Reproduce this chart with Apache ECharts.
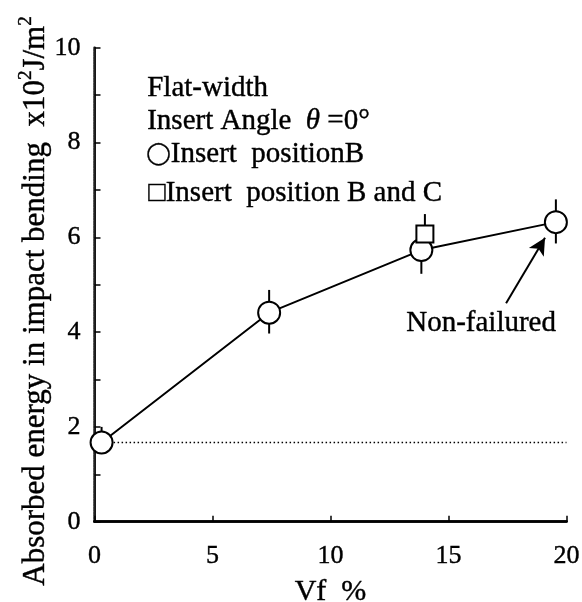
<!DOCTYPE html>
<html>
<head>
<meta charset="utf-8">
<script src="https://cdn.jsdelivr.net/npm/echarts@6/dist/echarts.min.js"></script>
<style>
html,body{margin:0;padding:0;background:#fff;}
#c{width:582px;height:602px;}
</style>
</head>
<body>
<div id="c"></div>
<script>
// ---- data ----
var xTicks = [0, 5, 10, 15, 20];
var yTicks = [0, 2, 4, 6, 8, 10];
// Insert position B : [Vf %, absorbed energy x10^2 J/m^2]
var posB = [[0.3, 1.67], [7.4, 4.41], [13.85, 5.73], [19.55, 6.32]];
// error bars for position B : [Vf, low, high]
var posBErr = [[0.3, 1.5, 2.0], [7.4, 3.97, 4.89], [13.85, 5.23, 5.9], [19.55, 5.87, 6.8]];
// Insert position B and C
var posBC = [[14.0, 6.07]];
var posBCErr = [[14.0, 5.95, 6.49]];
// reference level (Vf = 0) dotted line
var refLine = [[0.3, 1.67], [20, 1.67]];
// arrow pointing to the non-failured specimen
var arrowFrom = [17.44, 4.61];
var arrowTo = [19.09, 5.99];

var SERIF = '"Liberation Serif","Times New Roman",serif';
var INK = {textBorderColor: '#000', textBorderWidth: 0.4};
function tok(font) { return {font: font, fill: '#000', stroke: '#000', lineWidth: 0.4}; }

function errRender(params, api) {
  var x = api.value(0), lo = api.value(1), hi = api.value(2);
  var p1 = api.coord([x, lo]), p2 = api.coord([x, hi]);
  return {
    type: 'line',
    shape: {x1: p1[0], y1: p1[1], x2: p2[0], y2: p2[1]},
    style: {stroke: '#000', lineWidth: 2}
  };
}

var chart = echarts.init(document.getElementById('c'));
chart.setOption({
  animation: false,
  backgroundColor: '#fff',
  grid: {left: 94.5, right: 15.5, top: 47.7, bottom: 80.3, containLabel: false, outerBoundsMode: 'none'},
  xAxis: [{
    type: 'value', min: xTicks[0], max: xTicks[xTicks.length - 1], interval: 5,
    axisLine: {show: true, onZero: false, lineStyle: {color: '#000', width: 2.5}},
    axisTick: {show: true, inside: true, length: 6, lineStyle: {color: '#000', width: 1.5}},
    axisLabel: Object.assign({color: '#000', fontFamily: SERIF, fontSize: 26, margin: 21}, INK),
    splitLine: {show: false},
    name: 'Vf  %', nameLocation: 'middle', nameGap: 55,
    nameTextStyle: Object.assign({color: '#000', fontFamily: SERIF, fontSize: 30}, INK)
  }, {
    type: 'value', position: 'top', min: 0, max: 20,
    axisLine: {show: true, lineStyle: {color: '#000', width: 2.5}},
    axisTick: {show: false}, axisLabel: {show: false}, splitLine: {show: false}
  }],
  yAxis: [{
    type: 'value', min: yTicks[0], max: yTicks[yTicks.length - 1], interval: 2,
    axisLine: {show: true, onZero: false, lineStyle: {color: '#000', width: 2}},
    axisTick: {show: true, inside: true, length: 6, lineStyle: {color: '#000', width: 1.5}},
    minorTick: {show: true, splitNumber: 2, length: 6, lineStyle: {color: '#000', width: 1.5}},
    axisLabel: Object.assign({color: '#000', fontFamily: SERIF, fontSize: 26, margin: 14}, INK),
    splitLine: {show: false}
  }, {
    type: 'value', position: 'right', min: 0, max: 10,
    axisLine: {show: true, lineStyle: {color: '#222', width: 2.5, type: [2, 0.6]}},
    axisTick: {show: false}, axisLabel: {show: false}, splitLine: {show: false}
  }],
  series: [{
    type: 'line', data: refLine, symbol: 'none', z: 1,
    lineStyle: {color: '#000', width: 1.5, type: [1.5, 2.5]}
  }, {
    type: 'custom', data: posBErr, renderItem: errRender, z: 2,
    encode: {x: 0, y: [1, 2]}
  }, {
    type: 'custom', data: posBCErr, renderItem: errRender, z: 2,
    encode: {x: 0, y: [1, 2]}
  }, {
    name: 'Insert positionB', type: 'line', data: posB, z: 3,
    symbol: 'circle', symbolSize: 22,
    itemStyle: {color: '#fff', borderColor: '#000', borderWidth: 2},
    lineStyle: {color: '#000', width: 2},
    markLine: {
      silent: true, symbol: ['none', 'arrow'], symbolSize: [13, 17],
      lineStyle: {color: '#000', width: 2, type: 'solid'},
      label: {show: false},
      data: [[{coord: arrowFrom}, {coord: arrowTo}]]
    }
  }, {
    name: 'Insert position B and C', type: 'scatter', data: posBC, z: 4,
    symbol: 'rect', symbolSize: [17, 17],
    itemStyle: {color: '#fff', borderColor: '#000', borderWidth: 2, opacity: 1}
  }],
  graphic: [{
    type: 'text', left: 147, top: 74,
    style: Object.assign({text: 'Flat-width'}, tok('29px ' + SERIF))
  }, {
    type: 'text', left: 147, top: 107,
    style: Object.assign({
      text: '{n|Insert Angle  }{i|θ}{n| =0°}',
      rich: {n: tok('29px ' + SERIF), i: tok('italic 29px ' + SERIF)}
    }, tok('29px ' + SERIF))
  }, {
    type: 'text', left: 146, top: 140,
    style: Object.assign({
      text: '{c|◯}{n|Insert  positionB}',
      rich: {
        c: Object.assign(tok('22px "DejaVu Sans"'), {lineHeight: 32}),
        n: Object.assign(tok('29px ' + SERIF), {lineHeight: 32})
      }
    }, tok('29px ' + SERIF))
  }, {
    type: 'text', left: 148, top: 179,
    style: Object.assign({text: '□Insert  position B and C'}, tok('29px ' + SERIF))
  }, {
    type: 'text', left: 406, top: 309,
    style: Object.assign({text: 'Non-failured'}, tok('29px ' + SERIF))
  }, {
    type: 'text', x: 34, y: 301, rotation: Math.PI / 2,
    style: Object.assign({
      text: '{n|Absorbed energy in impact bending  x10}{s|2}{n|J/m}{s|2}',
      align: 'center', verticalAlign: 'middle',
      rich: {
        n: Object.assign(tok('31px ' + SERIF), {lineHeight: 34, verticalAlign: 'bottom'}),
        s: Object.assign(tok('19px ' + SERIF), {lineHeight: 34, verticalAlign: 'top'})
      }
    }, tok('31px ' + SERIF))
  }]
});
</script>
</body>
</html>
